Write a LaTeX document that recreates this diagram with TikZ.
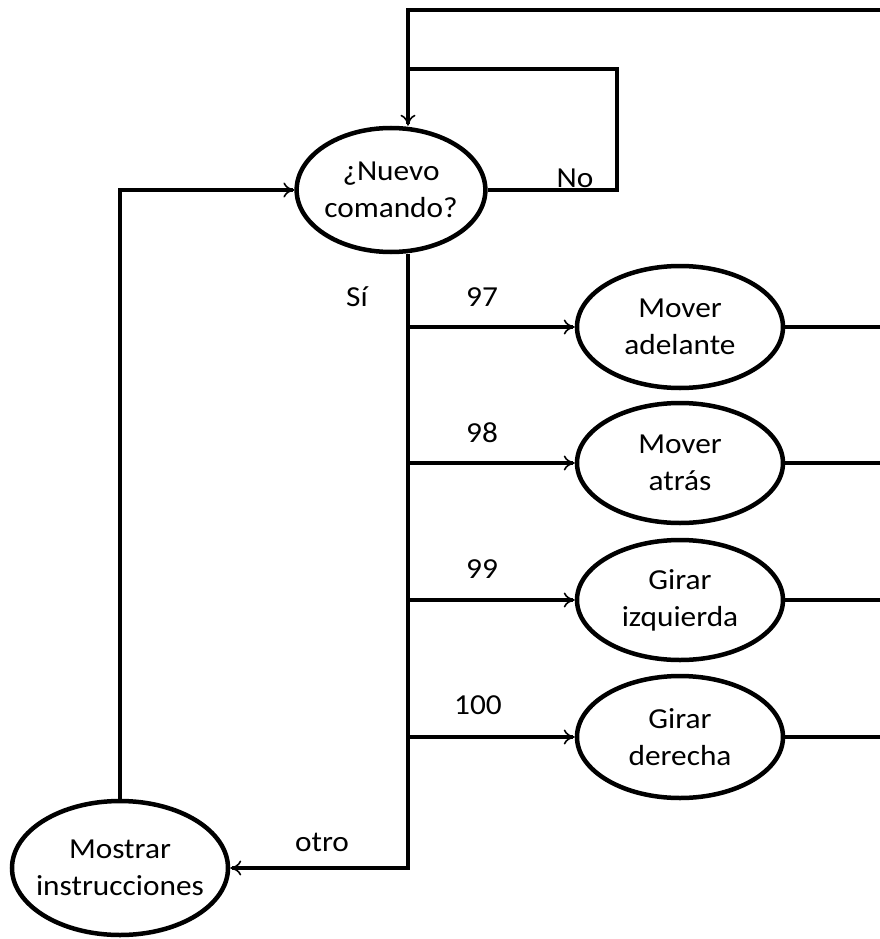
\documentclass[tikz,border=0pt]{standalone}
\usepackage{fontspec}
\setmainfont{Carlito}[FakeStretch=1.08]
\usetikzlibrary{arrows.meta,shapes.geometric}
\begin{document}
\begin{tikzpicture}[x=1pt,y=-1pt,
  line width=4pt,
  every node/.style={font=\fontsize{29}{37}\selectfont},
  oval/.style={draw, ellipse, line width=4.5pt, minimum width=#1, align=center, inner sep=0pt},
  oval/.default=206pt,
  flow/.style={-{To[length=11pt,width=15pt,line width=1.6pt]}},
  lbl/.style={inner sep=0pt}]
\useasboundingbox (0,0) rectangle (880,939);
% nodes
\node[oval=186pt, minimum height=124pt] (nuevo) at (391,190) {¿Nuevo\\comando?};
\node[oval, minimum height=122pt] (adel) at (680,327) {Mover\\adelante};
\node[oval, minimum height=120pt] (atras) at (680,463) {Mover\\atrás};
\node[oval, minimum height=120pt] (izq) at (680,600) {Girar\\izquierda};
\node[oval, minimum height=122pt] (der) at (680,737) {Girar\\derecha};
\node[oval=216pt, minimum height=134pt, inner xsep=-10pt] (mostrar) at (120,868) {Mostrar\\instrucciones};
% routing points
\coordinate (topL) at (408,10);
\coordinate (topR) at (882,10);
\coordinate (loopTL) at (408,69);
\coordinate (loopTR) at (617,69);
\coordinate (loopBR) at (617,190);
\coordinate (trunkBot) at (408,868);
\coordinate (leftTop) at (120,190);
\coordinate (r1) at (882,327);
\coordinate (r2) at (882,463);
\coordinate (r3) at (882,600);
\coordinate (r4) at (882,737);
% return rail from the command blocks back to the decision
\draw (r1) -- (adel.east);
\draw (r2) -- (atras.east);
\draw (r3) -- (izq.east);
\draw (r4) -- (der.east);
\draw (r4) -- (topR);
\draw[flow] (topR) -- (topL) -- (nuevo.north -| topL);
% "No" loop
\draw (nuevo.east) -- (loopBR) -- (loopTR) -- (loopTL);
% trunk and branches
\draw[flow] (nuevo.south -| topL) -- (trunkBot) -- (mostrar.east);
\draw[flow] (408,327) -- (adel.west);
\draw[flow] (408,463) -- (atras.west);
\draw[flow] (408,600) -- (izq.west);
\draw[flow] (408,737) -- (der.west);
% back to the decision
\draw[flow] (mostrar.north) -- (leftTop) -- (nuevo.west);
% labels
\node[lbl] (lno) at (575,178) {No};
\node[lbl] (lsi) at (357,297) {Sí};
\node[lbl] (l97) at (482,297) {97};
\node[lbl] (l98) at (482,433) {98};
\node[lbl] (l99) at (482,569) {99};
\node[lbl] (l100) at (478,705) {100};
\node[lbl] (lotro) at (322,842) {otro};
\end{tikzpicture}
\end{document}
